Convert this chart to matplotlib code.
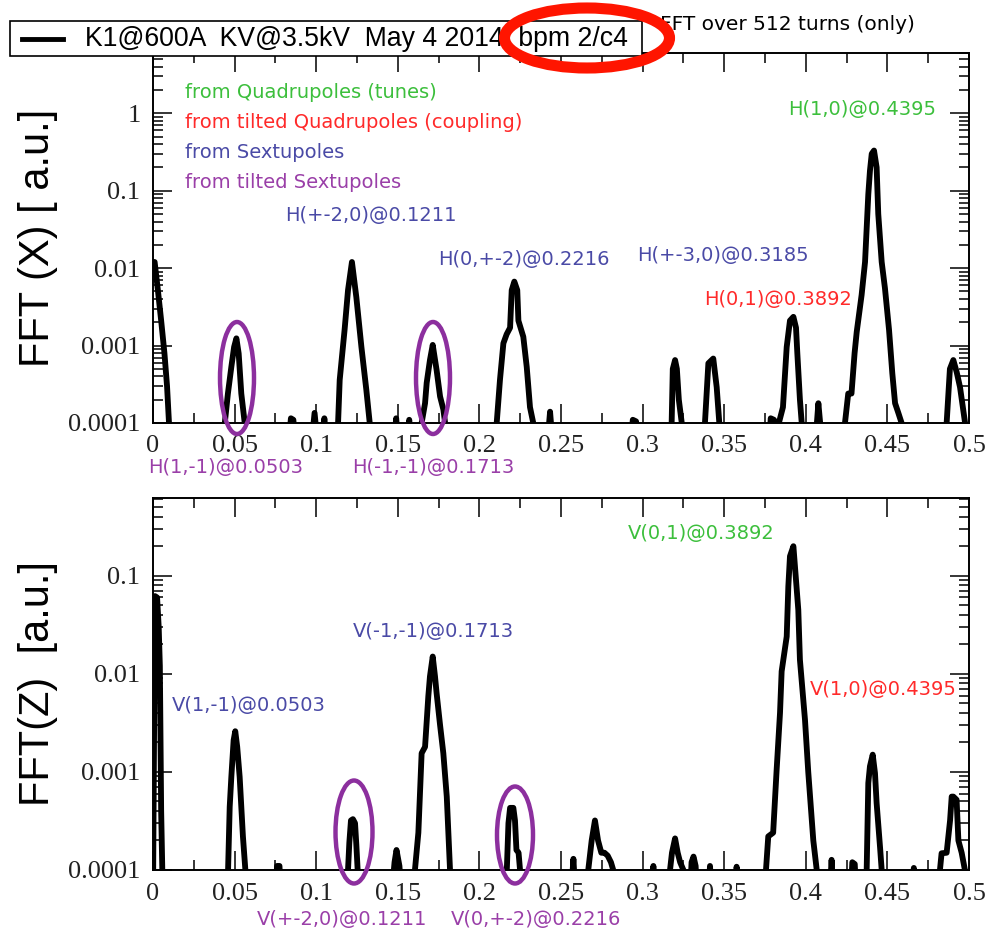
import matplotlib
matplotlib.use("Agg")
import matplotlib.pyplot as plt
from matplotlib.patches import Ellipse, Rectangle
from matplotlib.lines import Line2D
from matplotlib.ticker import MultipleLocator, LogLocator, FuncFormatter, NullFormatter

# ---------------------------------------------------------------------------
# Horizontal spectrum |FFT(X)| (512 turns); values below 1e-4 fall off the axis
x_freq = [0.0, 0.0010, 0.0030, 0.0050, 0.0070, 0.0086, 0.0098, 0.0115,
          0.0400, 0.0440, 0.0459, 0.0480, 0.0497, 0.0511, 0.0525, 0.0541, 0.0562, 0.0580,
          0.0830, 0.0845, 0.0860, 0.0875, 0.0970, 0.0990, 0.1010, 0.1035, 0.1050, 0.1065,
          0.1120, 0.1134, 0.1144, 0.1174, 0.1195, 0.1219, 0.1246, 0.1277, 0.1307, 0.1328, 0.1345,
          0.1475, 0.1490, 0.1505, 0.1555, 0.1570, 0.1585,
          0.1630, 0.1646, 0.1667, 0.1677, 0.1697, 0.1714, 0.1738, 0.1759, 0.1779, 0.1790, 0.1805,
          0.2090, 0.2106, 0.2126, 0.2147, 0.2167, 0.2188, 0.2198, 0.2214, 0.2232, 0.2239,
          0.2269, 0.2290, 0.2310, 0.2330, 0.2345,
          0.2415, 0.2433, 0.2450, 0.2925, 0.2940, 0.2960, 0.2975,
          0.3165, 0.3178, 0.3185, 0.3199, 0.3210, 0.3222, 0.3240, 0.3255,
          0.3368, 0.3382, 0.3403, 0.3433, 0.3454, 0.3470, 0.3485,
          0.3775, 0.3785, 0.3805, 0.3820, 0.3835, 0.3860, 0.3883, 0.3903, 0.3924, 0.3940,
          0.3948, 0.3964, 0.3975, 0.3990,
          0.4055, 0.4068, 0.4077, 0.4088, 0.4100,
          0.4225, 0.4240, 0.4260, 0.4280, 0.4299, 0.4312, 0.4342, 0.4363, 0.4383, 0.4393,
          0.4404, 0.4418, 0.4434, 0.4444, 0.4465, 0.4485, 0.4510, 0.4530, 0.4547, 0.4567,
          0.4587, 0.4600,
          0.4848, 0.4863, 0.4883, 0.4904, 0.4925, 0.4945, 0.4976, 0.4990, 0.5000]
x_amp = [0.012, 0.012, 0.0052, 0.0021, 0.0008, 0.0003, 0.0001, 5e-5,
         5e-5, 1e-4, 2.4e-4, 5.3e-4, 9.6e-4, 0.00124, 7.9e-4, 2.4e-4, 1e-4, 5e-5,
         5e-5, 1.15e-4, 1.1e-4, 5e-5, 5e-5, 1.35e-4, 5e-5, 5e-5, 1.15e-4, 5e-5,
         5e-5, 1e-4, 3.6e-4, 0.0016, 0.0052, 0.012, 0.0042, 0.00096, 2.7e-4, 1e-4, 5e-5,
         5e-5, 1.15e-4, 5e-5, 5e-5, 1.1e-4, 5e-5,
         5e-5, 1e-4, 1.8e-4, 3.3e-4, 6.5e-4, 0.00102, 4.8e-4, 2.2e-4, 1.5e-4, 1e-4, 5e-5,
         5e-5, 1e-4, 3.6e-4, 0.00107, 0.0014, 0.0017, 0.0052, 0.0067, 0.0052, 0.0021,
         0.0013, 5.3e-4, 1.6e-4, 1e-4, 5e-5,
         5e-5, 1.4e-4, 5e-5, 5e-5, 1.1e-4, 1.05e-4, 5e-5,
         5e-5, 1e-4, 5e-4, 6.5e-4, 5e-4, 2e-4, 1e-4, 5e-5,
         5e-5, 1e-4, 5.9e-4, 6.8e-4, 2.9e-4, 1e-4, 5e-5,
         5e-5, 1.15e-4, 1.1e-4, 5e-5, 1e-4, 1.6e-4, 9.6e-4, 0.0021, 0.00235, 0.0017,
         8e-4, 2e-4, 1e-4, 5e-5,
         5e-5, 1e-4, 1.8e-4, 1e-4, 5e-5,
         5e-5, 1e-4, 2.4e-4, 2.4e-4, 8e-4, 0.0015, 0.0045, 0.012, 0.09, 0.18,
         0.30, 0.33, 0.20, 0.05, 0.012, 0.0055, 0.0016, 4.4e-4, 1.8e-4, 1.35e-4,
         1e-4, 5e-5,
         5e-5, 1e-4, 5e-4, 6.5e-4, 4.5e-4, 2.9e-4, 1e-4, 5e-5, 5e-5]

# Vertical spectrum |FFT(Z)|
z_freq = [0.0, 0.0012, 0.0025, 0.0035, 0.0042, 0.0050, 0.0057, 0.0065,
          0.0445, 0.0460, 0.0470, 0.0480, 0.0494, 0.0504, 0.0516, 0.0531, 0.0551, 0.0566, 0.0580,
          0.0750, 0.0760, 0.0775, 0.0785,
          0.1180, 0.1195, 0.1203, 0.1213, 0.1225, 0.1238, 0.1246, 0.1254, 0.1265,
          0.1460, 0.1480, 0.1492, 0.1510, 0.1525,
          0.1590, 0.1605, 0.1626, 0.1646, 0.1667, 0.1687, 0.1697, 0.1714, 0.1728, 0.1738,
          0.1759, 0.1779, 0.1800, 0.1820, 0.1835,
          0.2155, 0.2168, 0.2178, 0.2188, 0.2208, 0.2218, 0.2227, 0.2240, 0.2249, 0.2260,
          0.2560, 0.2576, 0.2590,
          0.2650, 0.2667, 0.2688, 0.2708, 0.2727, 0.2747, 0.2766, 0.2786, 0.2806, 0.2820, 0.2835,
          0.3055, 0.3066, 0.3078,
          0.3155, 0.3168, 0.3180, 0.3199, 0.3215, 0.3230, 0.3250, 0.3262,
          0.3290, 0.3300, 0.3312, 0.3325, 0.3335,
          0.3400, 0.3413, 0.3425, 0.3565, 0.3576, 0.3588,
          0.3745, 0.3756, 0.3770, 0.3800, 0.3821, 0.3842, 0.3852, 0.3883, 0.3893, 0.3903,
          0.3924, 0.3940, 0.3954, 0.3964, 0.3995, 0.4015, 0.4046, 0.4067, 0.4080,
          0.4145, 0.4158, 0.4170, 0.4275, 0.4285, 0.4300, 0.4310,
          0.4360, 0.4373, 0.4383, 0.4393, 0.4410, 0.4424, 0.4434, 0.4455, 0.4465, 0.4478,
          0.4650, 0.4662, 0.4675,
          0.4810, 0.4822, 0.4832, 0.4863, 0.4884, 0.4894, 0.4904, 0.4924, 0.4935, 0.4955,
          0.4975, 0.4990]
z_amp = [5e-5, 0.062, 0.060, 0.030, 0.012, 4e-4, 1e-4, 5e-5,
         5e-5, 1e-4, 4.4e-4, 8.9e-4, 0.0021, 0.0026, 0.0018, 8.9e-4, 2.2e-4, 1e-4, 5e-5,
         5e-5, 1.1e-4, 1.1e-4, 5e-5,
         5e-5, 1e-4, 1.9e-4, 3.2e-4, 3.3e-4, 3e-4, 1.8e-4, 1e-4, 5e-5,
         5e-5, 1.2e-4, 1.6e-4, 1.1e-4, 5e-5,
         5e-5, 1e-4, 2.4e-4, 0.00155, 0.0018, 0.0059, 0.0094, 0.015, 0.0094, 0.0063,
         0.003, 0.00155, 5.6e-4, 1e-4, 5e-5,
         5e-5, 1e-4, 3e-4, 4.3e-4, 4.3e-4, 3.2e-4, 1.6e-4, 1.5e-4, 1e-4, 5e-5,
         5e-5, 1.3e-4, 5e-5,
         5e-5, 1e-4, 2e-4, 3.2e-4, 2e-4, 1.5e-4, 1.5e-4, 1.4e-4, 1.2e-4, 1e-4, 5e-5,
         5e-5, 1.1e-4, 5e-5,
         5e-5, 1e-4, 1.5e-4, 2.1e-4, 1.5e-4, 1.2e-4, 1e-4, 5e-5,
         5e-5, 1.2e-4, 1.37e-4, 1.1e-4, 5e-5,
         5e-5, 1.1e-4, 5e-5, 5e-5, 1.08e-4, 5e-5,
         5e-5, 1e-4, 2.2e-4, 2.4e-4, 0.00103, 0.004, 0.0106, 0.024, 0.078, 0.158,
         0.20, 0.09, 0.045, 0.0139, 0.0034, 0.001, 2e-4, 1e-4, 5e-5,
         5e-5, 1.27e-4, 5e-5, 5e-5, 1.2e-4, 1.15e-4, 5e-5,
         5e-5, 1e-4, 7.7e-4, 0.00114, 0.0015, 0.00097, 4.8e-4, 1.7e-4, 1e-4, 5e-5,
         5e-5, 1.05e-4, 5e-5,
         5e-5, 1e-4, 1.48e-4, 1.5e-4, 3.2e-4, 5.6e-4, 5.6e-4, 5.2e-4, 2e-4, 1.5e-4,
         1e-4, 5e-5]

x_ticks = [0, 0.05, 0.1, 0.15, 0.2, 0.25, 0.3, 0.35, 0.4, 0.45, 0.5]
top_yticks = [1e-4, 1e-3, 1e-2, 1e-1, 1]
bot_yticks = [1e-4, 1e-3, 1e-2, 1e-1]

legend_label = "K1@600A  KV@3.5kV  May 4 2014  bpm 2/c4"
note_label = "FFT over 512 turns (only)"
source_lines = ["from Quadrupoles (tunes)", "from tilted Quadrupoles (coupling)",
                "from Sextupoles", "from tilted Sextupoles"]

GREEN = "#3cbf3c"
RED = "#ff2a2a"
BLUE = "#4a4aa6"
PURPLE = "#9a3fa8"
RING = "#8c2f9e"

W, H = 991, 931
fig = plt.figure(figsize=(W / 100, H / 100), dpi=100)
fig.patch.set_facecolor("white")


def fx(px):
    return px / W


def fy(py):
    return 1 - py / H


ax_top = fig.add_axes([fx(153), fy(423), fx(969) - fx(153), fy(53) - fy(423)])
ax_bot = fig.add_axes([fx(153), fy(870), fx(969) - fx(153), fy(498) - fy(870)])

fmt = FuncFormatter(lambda v, p: "%g" % v)

for ax, f, a, ylim, yt in ((ax_top, x_freq, x_amp, (1e-4, 6.0), top_yticks),
                           (ax_bot, z_freq, z_amp, (1e-4, 0.62), bot_yticks)):
    ax.plot(f, a, color="black", lw=4.2, solid_joinstyle="round")
    ax.set_yscale("log")
    ax.set_xlim(0, 0.5)
    ax.set_ylim(*ylim)
    ax.set_xticks(x_ticks)
    ax.xaxis.set_minor_locator(MultipleLocator(0.025))
    ax.set_yticks(yt)
    ax.yaxis.set_minor_locator(LogLocator(base=10, subs=range(2, 10)))
    ax.yaxis.set_minor_formatter(NullFormatter())
    ax.xaxis.set_major_formatter(fmt)
    ax.yaxis.set_major_formatter(fmt)
    ax.tick_params(which="both", direction="in", top=True, right=True,
                   width=1.1, color="black")
    ax.tick_params(which="major", length=14)
    ax.tick_params(which="minor", length=7)
    ax.tick_params(axis="x", which="major", pad=9, labelsize=19,
                   labelfontfamily="Liberation Serif", labelcolor="#222222")
    ax.tick_params(axis="y", which="major", pad=9, labelsize=19,
                   labelfontfamily="Liberation Serif", labelcolor="#222222")
    for s in ax.spines.values():
        s.set_linewidth(1.4)

# axis titles
fig.text(fx(38), fy(238), "FFT (X) [ a.u.]", rotation=90, ha="center", va="center",
         fontsize=30, family="Liberation Sans")
fig.text(fx(38), fy(683), "FFT(Z)  [a.u.]", rotation=90, ha="center", va="center",
         fontsize=30, family="Liberation Sans")


def note(px, py, s, c, size=14):
    fig.text(fx(px), fy(py), s, color=c, ha="left", va="center",
             fontsize=size, family="DejaVu Sans")


# colour key
for s, c, py in zip(source_lines, (GREEN, RED, BLUE, PURPLE), (93, 123, 153, 182)):
    note(185, py, s, c)

# horizontal plane lines
note(285, 216, "H(+-2,0)@0.1211", BLUE)
note(438, 259, "H(0,+-2)@0.2216", BLUE)
note(637, 255, "H(+-3,0)@0.3185", BLUE)
note(704, 299, "H(0,1)@0.3892", RED)
note(788, 110, "H(1,0)@0.4395", GREEN)
note(148, 467, "H(1,-1)@0.0503", PURPLE)
note(352, 467, "H(-1,-1)@0.1713", PURPLE)

# vertical plane lines
note(172, 705, "V(1,-1)@0.0503", BLUE)
note(353, 632, "V(-1,-1)@0.1713", BLUE)
note(628, 533, "V(0,1)@0.3892", GREEN)
note(810, 690, "V(1,0)@0.4395", RED)
note(257, 919, "V(+-2,0)@0.1211", PURPLE)
note(451, 919, "V(0,+-2)@0.2216", PURPLE)

# rings around the tilted-sextupole lines
for cx, cy, w, h in ((237, 378, 34, 112), (433, 378, 34, 112),
                     (354, 832, 37, 103), (515, 835, 36, 97)):
    fig.add_artist(Ellipse((fx(cx), fy(cy)), w / W, h / H, transform=fig.transFigure,
                           fill=False, edgecolor=RING, lw=3.2, zorder=10))

# legend box
fig.add_artist(Rectangle((fx(10), fy(56)), (642 - 10) / W, (56 - 21) / H,
                         transform=fig.transFigure, facecolor="white",
                         edgecolor="black", lw=1.2, zorder=8))
fig.add_artist(Line2D([fx(22), fx(63)], [fy(39), fy(39)], transform=fig.transFigure,
                      color="black", lw=3.5, zorder=9))
fig.text(fx(85), fy(39), legend_label, ha="left", va="center", fontsize=19.2,
         family="Liberation Sans", zorder=9)
fig.text(fx(660), fy(24), note_label, ha="left", va="center", fontsize=14.5,
         family="DejaVu Sans", zorder=9)

# red highlight ring over the bpm name
fig.add_artist(Ellipse((fx(587), fy(38)), 165 / W, 60 / H, transform=fig.transFigure,
                       fill=False, edgecolor="#ff1500", lw=8, zorder=11))

fig.savefig("out.png", dpi=100)
